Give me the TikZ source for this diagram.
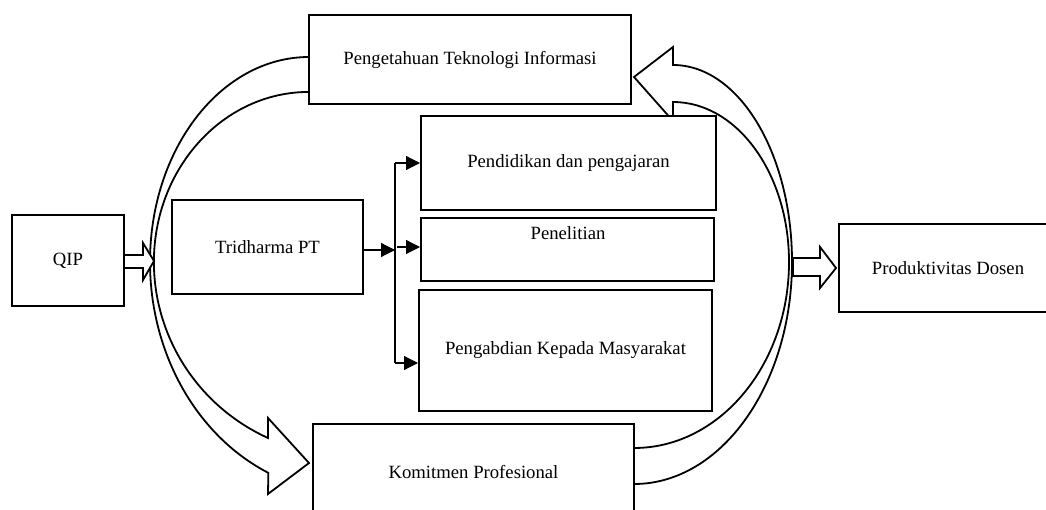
\documentclass[tikz,border=0pt]{standalone}
\usepackage{fontspec}
\setmainfont{Liberation Serif}
\usetikzlibrary{arrows.meta}
\begin{document}
\begin{tikzpicture}[x=1pt,y=1pt,
  box/.style={draw, line width=2pt, fill=white, inner sep=0pt, font=\fontsize{18.7}{22}\selectfont},
  lbl/.style={inner sep=0pt, font=\fontsize{18.7}{22}\selectfont},
  blk/.style={draw, line width=1.8pt, fill=white, line join=miter},
  brk/.style={line width=1.2pt},
  barrow/.style={brk, -{Triangle[length=14pt,width=14pt]}}]
\useasboundingbox (0,0) rectangle (1046,509);
\clip (0,0) rectangle (1046,509);

% big curved block arrows
\path[blk] (309,452) arc[start angle=90,end angle=180,x radius=159,y radius=205]
  arc[start angle=180,end angle=245.9,x radius=200,y radius=231]
  -- (268,15) -- (309,46) -- (268,91) -- (268,71)
  arc[start angle=245.3,end angle=180,x radius=196,y radius=193.8]
  arc[start angle=180,end angle=90,x radius=155,y radius=170] -- cycle;

\path[blk] (634,25) arc[start angle=270,end angle=360,x radius=158,y radius=222]
  arc[start angle=0,end angle=90,x radius=119,y radius=197]
  -- (673,462) -- (634,432) -- (673,388) -- (673,407)
  arc[start angle=90,end angle=0,x radius=116,y radius=160]
  arc[start angle=0,end angle=-90,x radius=155,y radius=186] -- cycle;

% small block arrows
\path[blk] (124,254) -- (143,254) -- (143,266) -- (154,248) -- (143,229) -- (143,241) -- (124,241) -- cycle;
\path[blk] (793,251) -- (820,251) -- (820,262) -- (836,241) -- (820,221) -- (820,233) -- (793,233) -- cycle;

% boxes
\node[box, minimum width=112, minimum height=91] (qip) at (68,248.5) {QIP};
\node[box, minimum width=191, minimum height=94] (tri) at (267.5,262) {Tridharma PT};
\node[box, minimum width=322, minimum height=89] (pti) at (470,449.5) {Pengetahuan Teknologi Informasi};
\node[box, minimum width=295, minimum height=94] (pend) at (568.5,346) {Pendidikan dan pengajaran};
\node[box, minimum width=293, minimum height=63] (pen) at (567.5,259.5) {};
\node[lbl] (penlbl) at (568,276) {Penelitian};
\node[box, minimum width=293, minimum height=121] (peng) at (565.5,158.5) {Pengabdian Kepada Masyarakat};
\node[box, minimum width=321, minimum height=96] (kom) at (473.5,37) {Komitmen Profesional};
\node[box, minimum width=218, minimum height=88] (prod) at (948,241) {Produktivitas Dosen};

% bracket connectors
\coordinate (j) at (395,259);
\coordinate (b1) at (395,346);
\coordinate (b2) at (397,262);
\coordinate (b3) at (395,146);
\draw[brk] (b1) -- (b3);
\draw[barrow] (tri.east |- j) -- (j);
\draw[barrow] (b1) -- (pend.west);
\draw[barrow] (b2) -- (b2 -| pen.west);
\draw[barrow] (b3) -- (b3 -| peng.west);
\end{tikzpicture}
\end{document}
